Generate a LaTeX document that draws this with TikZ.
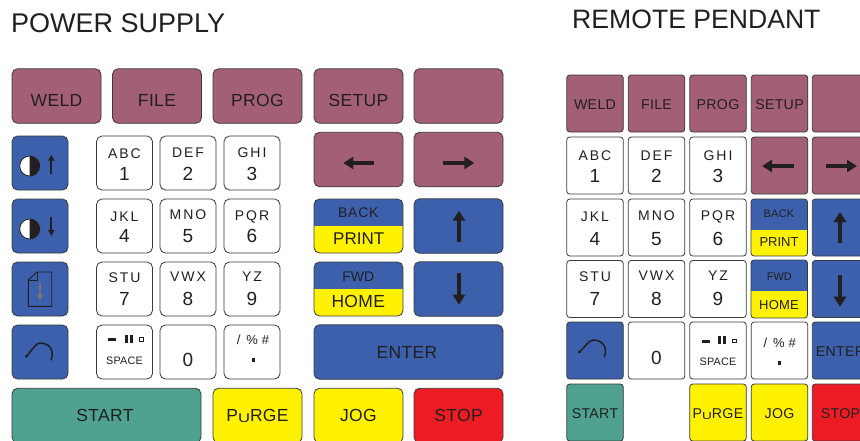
\documentclass[tikz,border=0pt]{standalone}
\usepackage{fontspec}
\setmainfont{Liberation Sans}
\newfontfamily\widefont[LetterSpace=14]{Liberation Sans}
\newfontfamily\midfont[LetterSpace=2]{Liberation Sans}
\newfontfamily\backfont[LetterSpace=5]{Liberation Sans}
\usetikzlibrary{arrows.meta}
\newcommand{\purgeword}{P\raisebox{-1.2pt}{\scalebox{.95}[.72]{U}}RGE}
\begin{document}
\begin{tikzpicture}[
  x=1pt, y=-1pt,
  keybox/.style={draw=keyline, line width=0.8pt, rounded corners=5.5pt, inner sep=0pt, outer sep=0pt},
  wide/.style={keybox, minimum width=89pt, minimum height=54.5pt},
  longkey/.style={keybox, minimum width=189pt, minimum height=54.5pt},
  small/.style={keybox, minimum width=56pt, minimum height=54pt},
  pend/.style={keybox, rounded corners=3pt, minimum width=56.5pt, minimum height=57pt},
  title/.style={font=\fontsize{27}{30}\selectfont, anchor=base west, inner sep=0pt, text=ink},
  bigtxt/.style={font=\midfont\fontsize{17.5}{20}\selectfont, anchor=base, inner sep=0pt, text=ink},
  pendtxt/.style={font=\midfont\fontsize{14.2}{16}\selectfont, anchor=base, inner sep=0pt, text=ink},
  abc/.style={font=\widefont\fontsize{14}{16}\selectfont, anchor=base, inner sep=0pt, text=ink},
  digit/.style={font=\fontsize{19}{21}\selectfont, anchor=base, inner sep=0pt, text=ink},
  tiny/.style={font=\midfont\fontsize{11}{13}\selectfont, anchor=base, inner sep=0pt, text=ink},
  spc/.style={font=\midfont\fontsize{10.8}{12}\selectfont, anchor=base, inner sep=0pt, text=ink},
  bigarrow/.style={draw=ink, line width=4pt, -{Triangle[length=10pt,width=12pt]}},
  minarrow/.style={draw=ink, line width=2pt, -{Triangle[length=6pt,width=6pt]}},
]
\definecolor{mauve}{HTML}{A36074}
\definecolor{keyblue}{HTML}{3C60AB}
\definecolor{keygreen}{HTML}{4EA28F}
\definecolor{keyyellow}{HTML}{FFF200}
\definecolor{keyred}{HTML}{ED1C24}
\definecolor{ink}{HTML}{231F20}
\definecolor{keyline}{HTML}{3A3A3C}

\useasboundingbox (0,0) rectangle (860,440);
\clip (0,0) rectangle (860,440);

\node[title] (pstitle) at (11,32) {POWER SUPPLY};
\node[title, font=\fontsize{26.6}{30}\selectfont] (rptitle) at (572,28) {REMOTE PENDANT};

% ---- left: power supply ----
\foreach \nm/\cx/\cy/\clr/\txt/\base in {weld/56.5/96/mauve/WELD/106, file/157/96/mauve/FILE/106,
    prog/257.5/96/mauve/PROG/106, setup/358.5/96/mauve/SETUP/106,
    purge/257.5/415.5/keyyellow/{\purgeword}/421.7, jog/358.5/415.5/keyyellow/JOG/421.7,
    stop/458.5/415.5/keyred/STOP/421.7} {
  \node[wide, fill=\clr] (ps\nm) at (\cx,\cy) {};
  \node[bigtxt] (ps\nm txt) at (\cx,\base) {\txt};
}
\node[wide, fill=mauve] (psblank) at (458.5,96) {};
\node[wide, fill=mauve] (psleft) at (358.5,159.5) {};
\node[wide, fill=mauve] (psright) at (458.5,159.5) {};
\node[wide, fill=keyblue] (psup) at (458.5,226) {};
\node[wide, fill=keyblue] (psdown) at (458.5,289) {};
\draw[bigarrow] (374,163) -- (343.3,163);
\draw[bigarrow] (443,163) -- (474.3,163);
\draw[bigarrow] (459,242) -- (459,210.7);
\draw[bigarrow] (459,273) -- (459,304.7);
\node[longkey, fill=keyblue] (psenter) at (408.5,352) {};
\node[bigtxt] (psentertxt) at (407,358.7) {ENTER};
\node[longkey, fill=keygreen] (psstart) at (106.5,415.5) {};
\node[bigtxt] (psstarttxt) at (105,421.7) {START};

% split keys
\foreach \nm/\xa/\ya/\xb/\yb/\ysp/\rad in {psback/314/199/403/253/226/5.5, psfwd/314/262/403/316/289/5.5,
    rpback/751/199/807.5/256/230/3, rpfwd/751/260/807.5/318/291/3} {
  \begin{scope}
    \clip[rounded corners=\rad pt] (\xa,\ya) rectangle (\xb,\yb);
    \fill[keyblue] (\xa,\ya) rectangle (\xb,\ysp);
    \fill[keyyellow] (\xa,\ysp) rectangle (\xb,\yb);
  \end{scope}
  \draw[keyline, line width=0.8pt, rounded corners=\rad pt] (\xa,\ya) rectangle (\xb,\yb);
}
\node[bigtxt, font=\backfont\fontsize{14}{16}\selectfont] (psbacktxt) at (358.3,217.7) {BACK};
\node[bigtxt, font=\fontsize{17}{20}\selectfont] (psprint) at (358.7,244) {PRINT};
\node[bigtxt, font=\fontsize{14}{16}\selectfont] (psfwdtxt) at (358.3,281) {FWD};
\node[bigtxt] (pshome) at (358.3,307.3) {HOME};

% side keys
\foreach \nm/\cy in {conup/163, condown/226, file/289, arc/352}
  \node[small, fill=keyblue] (ps\nm key) at (40,\cy) {};
\foreach \cy/\ya/\yb in {166/174/154.7, 229/216.7/236} {
  \fill[white] (29.7,\cy) circle (10);
  \fill[ink] (29.7,\cy-10) arc (-90:90:10) -- cycle;
  \draw[ink, line width=0.8pt] (29.7,\cy) circle (10);
  \draw[minarrow] (51.3,\ya) -- (51.3,\yb);
}
\draw[ink, line width=0.9pt] (37,272) -- (51.7,272) -- (51.7,306.3) -- (28.3,306.3) -- (28.3,280) -- cycle;
\draw[ink, line width=0.6pt] (37,272) -- (37,280) -- (28.3,280);
\draw[draw=black!55, line width=1.6pt, -{Triangle[length=6pt,width=6pt]}] (40,283) -- (40,300.7);
\draw[ink, line width=1.5pt, line cap=round] (26,356.7) .. controls (33,349) and (36,343) .. (40,343)
  .. controls (49,343) and (55,350) .. (51,360);
\fill[ink] (26.6,356.2) circle (1.6);

% number keys
\foreach \nm/\cx/\cy/\txt/\base/\dg/\dgbase in {abc/124.5/163/ABC/158.3/1/180, def/188/163/DEF/157.3/2/180, ghi/252/163/GHI/157.3/3/180,
    jkl/124.5/226/JKL/221/4/242, mno/188/226/MNO/219.3/5/242, pqr/252/226/PQR/220/6/242,
    stu/124.5/289/STU/282.3/7/305.7, vwx/188/289/VWX/281.7/8/305.7, yz/252/289/YZ/281/9/305.7} {
  \node[small, fill=white] (ps\nm) at (\cx,\cy) {};
  \node[abc] (ps\nm top) at (\cx,\base) {\txt};
  \node[digit] (ps\nm num) at (\cx,\dgbase) {\dg};
}
\node[small, fill=white] (pszero) at (188,352) {};
\node[digit] (pszeronum) at (188,366.7) {0};
\node[small, fill=white] (psspace) at (124.5,352) {};
\node[spc] (psspacetxt) at (124.5,364.7) {SPACE};
\fill[ink] (108.3,337.8) rectangle (116.3,340.8);
\fill[ink] (125,335) rectangle (128.3,342.7);
\fill[ink] (130,335) rectangle (133,342.7);
\draw[ink, line width=0.9pt] (139.6,337.2) rectangle (143.4,341);
\node[small, fill=white] (psmark) at (252,352) {};
\node[abc, font=\fontsize{13}{15}\selectfont] (psmarktxt) at (253,344) {/\hspace{6pt}\%\hspace{4pt}\#};
\fill[ink] (251.6,358.3) rectangle (255,361.7);

% ---- right: remote pendant ----
\foreach \nm/\cx/\cy/\clr/\txt/\base in {weld/595/103.5/mauve/WELD/109, file/656.5/103.5/mauve/FILE/109,
    prog/718/103.5/mauve/PROG/109, setup/779.5/103.5/mauve/SETUP/109,
    enter/840.5/350.5/keyblue/ENTER/356, start/595/412.5/keygreen/START/418,
    purge/718/412.5/keyyellow/{\purgeword}/418, jog/779.5/412.5/keyyellow/JOG/418,
    stop/840.5/412.5/keyred/STOP/418} {
  \node[pend, fill=\clr] (rp\nm) at (\cx,\cy) {};
  \node[pendtxt] (rp\nm txt) at (\cx,\base) {\txt};
}
\node[pend, fill=mauve] (rpblank) at (840.5,103.5) {};
\node[pend, fill=mauve] (rpleft) at (779.5,165.5) {};
\node[pend, fill=mauve] (rpright) at (840.5,165.5) {};
\node[pend, fill=keyblue] (rpup) at (840.5,227.5) {};
\node[pend, fill=keyblue] (rpdown) at (840.5,289) {};
\draw[bigarrow] (793.7,166) -- (762,166);
\draw[bigarrow] (825.7,166) -- (857,166);
\draw[bigarrow] (840,242.7) -- (840,212);
\draw[bigarrow] (840,275) -- (840,306.7);
\node[tiny] (rpbacktxt) at (779,217.7) {BACK};
\node[pendtxt, font=\fontsize{13}{15}\selectfont] (rpprint) at (779,246.7) {PRINT};
\node[tiny, font=\fontsize{11}{13}\selectfont] (rpfwdtxt) at (779.3,280) {FWD};
\node[pendtxt, font=\midfont\fontsize{13}{15}\selectfont] (rphome) at (779,309) {HOME};

\foreach \nm/\cx/\cy/\txt/\base/\dg/\dgbase in {abc/595/165.5/ABC/160.7/1/182.7, def/656.5/165.5/DEF/160/2/182.7, ghi/718/165.5/GHI/160/3/182.7,
    jkl/595/227.5/JKL/221.7/4/245, mno/656.5/227.5/MNO/220/5/245, pqr/718/227.5/PQR/220/6/245,
    stu/595/289/STU/281.7/7/305.7, vwx/656.5/289/VWX/280.7/8/305.7, yz/718/289/YZ/280/9/305.7} {
  \node[pend, fill=white] (rp\nm) at (\cx,\cy) {};
  \node[abc] (rp\nm top) at (\cx,\base) {\txt};
  \node[digit] (rp\nm num) at (\cx,\dgbase) {\dg};
}
\node[pend, fill=keyblue] (rparckey) at (595,350.5) {};
\draw[ink, line width=1.5pt, line cap=round] (579,352.3) .. controls (586,346) and (589,340) .. (593.3,340)
  .. controls (602,340) and (608,347) .. (604.3,356.7);
\fill[ink] (579.6,351.8) circle (1.6);
\node[pend, fill=white] (rpzero) at (656.5,350.5) {};
\node[digit] (rpzeronum) at (656.5,364.3) {0};
\node[pend, fill=white] (rpspace) at (718,350.5) {};
\node[spc] (rpspacetxt) at (718,365.7) {SPACE};
\fill[ink] (702,339.5) rectangle (710,342.5);
\fill[ink] (718,336) rectangle (721.3,344);
\fill[ink] (722.7,336) rectangle (726,344);
\draw[ink, line width=0.9pt] (732.6,339) rectangle (736,342.4);
\node[pend, fill=white] (rpmark) at (779.5,350.5) {};
\node[abc, font=\fontsize{13}{15}\selectfont] (rpmarktxt) at (779.7,347.7) {/\hspace{6pt}\%\hspace{4pt}\#};
\fill[ink] (778,361.3) rectangle (781.4,364.7);
\end{tikzpicture}
\end{document}
